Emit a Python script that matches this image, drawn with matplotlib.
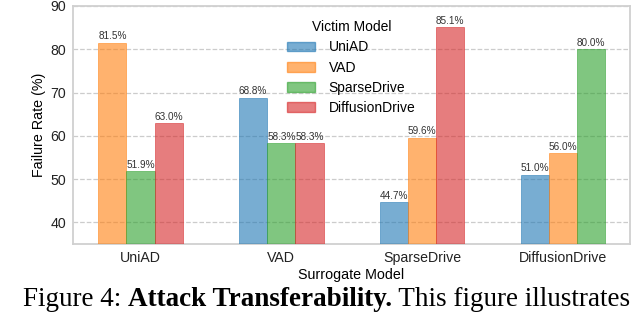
import numpy as np
import matplotlib
matplotlib.use('Agg')
import matplotlib.pyplot as plt
from matplotlib.patches import Patch

surrogates = ['UniAD', 'VAD', 'SparseDrive', 'DiffusionDrive']
victims = ['UniAD', 'VAD', 'SparseDrive', 'DiffusionDrive']

# failure rate (%) per victim model, indexed by surrogate; nan = self (not shown)
uniad = [np.nan, 68.8, 44.7, 51.0]
vad = [81.5, np.nan, 59.6, 56.0]
sparsedrive = [51.9, 58.3, np.nan, 80.0]
diffusiondrive = [63.0, 58.3, 85.1, np.nan]

colors = ['tab:blue', 'tab:orange', 'tab:green', 'tab:red']


def main():
    plt.rcParams['font.family'] = ['Liberation Sans', 'DejaVu Sans']
    series = [uniad, vad, sparsedrive, diffusiondrive]

    fig = plt.figure(figsize=(6.4, 3.14), dpi=100)
    ax = fig.add_axes([0.114, 0.223, 0.87, 0.758])

    width = 0.2
    for i, name in enumerate(surrogates):
        present = [j for j in range(len(victims)) if not np.isnan(series[j][i])]
        n = len(present)
        for k, j in enumerate(present):
            x = i + (k - (n - 1) / 2) * width
            v = series[j][i]
            ax.bar(x, v, width, color=colors[j], alpha=0.6, edgecolor=colors[j],
                   linewidth=0.6, zorder=3)
            ax.text(x, v + 0.3, f'{v:.1f}%', ha='center', va='bottom',
                    fontsize=7.2, color='#333333', zorder=4)

    ax.set_ylim(35, 90)
    ax.set_xlim(-0.48, 3.475)
    ax.set_yticks([40, 50, 60, 70, 80, 90])
    ax.set_xticks(range(len(surrogates)))
    ax.set_xticklabels(surrogates)
    ax.tick_params(axis='both', length=0, labelsize=10.2, pad=5, colors='#222222')
    ax.yaxis.grid(True, linestyle='--', color='#cccccc', linewidth=0.9, zorder=0)
    ax.set_axisbelow(True)
    for s in ax.spines.values():
        s.set_color('#d0d0d0')
        s.set_linewidth(1.3)

    ax.set_xlabel('Surrogate Model', fontsize=10.3, labelpad=2)
    ax.set_ylabel('Failure Rate (%)', fontsize=10.3, labelpad=3)

    handles = [Patch(facecolor=c, edgecolor=c, alpha=0.6) for c in colors]
    fig.legend(handles, victims, title='Victim Model', loc='upper left',
               bbox_to_anchor=(0.44, 0.953), frameon=False, fontsize=10,
               title_fontsize=10, handlelength=2.0, handleheight=0.7,
               handletextpad=1.0, labelspacing=0.44, borderaxespad=0)

    # caption text from the paper
    fig.canvas.draw()
    r = fig.canvas.get_renderer()
    x = 23 / 640
    y = 8 / 314
    parts = [('Figure 4: ', 'normal'), ('Attack Transferability.', 'bold'),
             (' This figure illustrates', 'normal')]
    for txt, wt in parts:
        t = fig.text(x, y, txt, fontsize=19.5, family='Liberation Serif',
                     weight=wt, va='baseline', ha='left')
        bb = t.get_window_extent(renderer=r)
        x = bb.x1 / fig.bbox.width

    fig.savefig('out.png', dpi=100)


if __name__ == '__main__':
    main()
